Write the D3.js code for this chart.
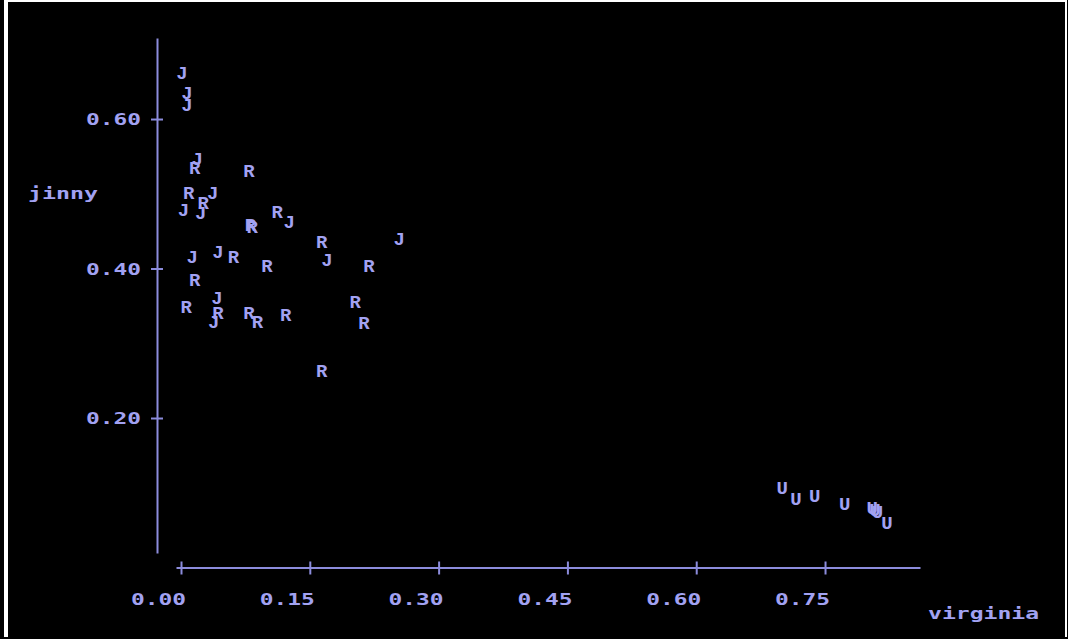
<!DOCTYPE html>
<html>
<head>
<meta charset="utf-8">
<script src="https://cdn.jsdelivr.net/npm/d3@7"></script>
<style>
  html, body { margin: 0; padding: 0; background: #000; }
  svg { display: block; }
</style>
</head>
<body>
<svg id="chart" width="1068" height="639"></svg>
<script>
// ---- data ----
const jinnyPointsX = [0.001, 0.007, 0.007, 0.019, 0.037, 0.003, 0.023, 0.126, 0.254, 0.013, 0.043, 0.170, 0.042, 0.038];
const jinnyPointsY = [0.661, 0.635, 0.619, 0.547, 0.501, 0.478, 0.474, 0.462, 0.440, 0.415, 0.422, 0.411, 0.361, 0.329];
const rhodaPointsX = [0.016, 0.079, 0.009, 0.026, 0.112, 0.081, 0.083, 0.164, 0.061, 0.100, 0.219, 0.016, 0.006, 0.043, 0.079, 0.089, 0.122, 0.203, 0.213, 0.164];
const rhodaPointsY = [0.535, 0.530, 0.501, 0.488, 0.476, 0.458, 0.456, 0.436, 0.415, 0.404, 0.404, 0.385, 0.348, 0.341, 0.341, 0.329, 0.338, 0.355, 0.327, 0.263];
const virginiaPointsX = [0.700, 0.716, 0.738, 0.773, 0.805, 0.808, 0.811, 0.822];
const virginiaPointsY = [0.107, 0.092, 0.096, 0.085, 0.079, 0.077, 0.074, 0.059];
const xTickValues = [0.00, 0.15, 0.30, 0.45, 0.60, 0.75];
const xTickLabels = ["0.00", "0.15", "0.30", "0.45", "0.60", "0.75"];
const yTickValues = [0.20, 0.40, 0.60];
const yTickLabels = ["0.20", "0.40", "0.60"];
const seriesMarks = ["J", "R", "U"];
const xTitle = "virginia";
const yTitle = "jinny";

// ---- styles ----
const TEXT = "#a2a2f2";
const LINE = "#8c8cdc";
const MONO = "'DejaVu Sans Mono', monospace";
const MARKFONT = "'Liberation Mono', 'Courier New', monospace";

const svg = d3.select("#chart");
svg.append("rect").attr("x", 0).attr("y", 0).attr("width", 1068).attr("height", 639).attr("fill", "#000");

// frame
svg.append("rect").attr("x", 4).attr("y", 0).attr("width", 4).attr("height", 637).attr("fill", "#fff");
svg.append("rect").attr("x", 4).attr("y", 0).attr("width", 1063).attr("height", 2).attr("fill", "#fff");
svg.append("rect").attr("x", 1065).attr("y", 0).attr("width", 2).attr("height", 637).attr("fill", "#fff");

// scales
const x = d3.scaleLinear().domain([-0.00582, 0.8606]).range([176, 920]);
const y = d3.scaleLinear().domain([0.0194, 0.7084]).range([553, 38]);

// x axis
const xAxis = d3.axisBottom(x).tickValues(xTickValues).tickSize(0).tickFormat("");
const gx = svg.append("g").attr("transform", "translate(0,567.5)").call(xAxis);
gx.select(".domain").attr("stroke", LINE).attr("stroke-width", 2);
gx.selectAll(".tick line").attr("stroke", LINE).attr("stroke-width", 2).attr("y1", -6).attr("y2", 7);
gx.selectAll(".tick text").remove();
svg.append("g").selectAll("text").data(xTickValues).join("text")
  .attr("x", d => x(d) + 5 - 55)
  .attr("y", 605)
  .attr("textLength", 55).attr("lengthAdjust", "spacingAndGlyphs")
  .attr("font-family", MONO).attr("font-weight", "bold").attr("font-size", 16)
  .attr("fill", TEXT)
  .text((d, i) => xTickLabels[i]);

// y axis
const yAxis = d3.axisLeft(y).tickValues(yTickValues).tickSize(0).tickFormat("");
const gy = svg.append("g").attr("transform", "translate(157,0)").call(yAxis);
gy.select(".domain").attr("stroke", LINE).attr("stroke-width", 2);
gy.selectAll(".tick line").attr("stroke", LINE).attr("stroke-width", 2).attr("x1", -6).attr("x2", 6);
gy.selectAll(".tick text").remove();
svg.append("g").selectAll("text").data(yTickValues).join("text")
  .attr("x", 86)
  .attr("y", d => y(d) + 6)
  .attr("textLength", 55).attr("lengthAdjust", "spacingAndGlyphs")
  .attr("font-family", MONO).attr("font-weight", "bold").attr("font-size", 16)
  .attr("fill", TEXT)
  .text((d, i) => yTickLabels[i]);

// axis titles
svg.append("text").attr("x", 28).attr("y", 199)
  .attr("textLength", 70).attr("lengthAdjust", "spacingAndGlyphs")
  .attr("font-family", MONO).attr("font-weight", "bold").attr("font-size", 16)
  .attr("fill", TEXT).text(yTitle);
svg.append("text").attr("x", 928).attr("y", 619)
  .attr("textLength", 111).attr("lengthAdjust", "spacingAndGlyphs")
  .attr("font-family", MONO).attr("font-weight", "bold").attr("font-size", 16)
  .attr("fill", TEXT).text(xTitle);

// points
const series = [
  { mark: seriesMarks[0], xs: jinnyPointsX, ys: jinnyPointsY },
  { mark: seriesMarks[1], xs: rhodaPointsX, ys: rhodaPointsY },
  { mark: seriesMarks[2], xs: virginiaPointsX, ys: virginiaPointsY }
];
const gp = svg.append("g");
series.forEach(s => {
  gp.append("g").selectAll("text").data(s.xs.map((v, i) => [v, s.ys[i]])).join("text")
    .attr("x", d => x(d[0]))
    .attr("y", d => y(d[1]) + 6)
    .attr("text-anchor", "middle")
    .attr("font-family", MARKFONT).attr("font-weight", "bold").attr("font-size", 19)
    .attr("fill", TEXT)
    .text(s.mark);
});
</script>
</body>
</html>
